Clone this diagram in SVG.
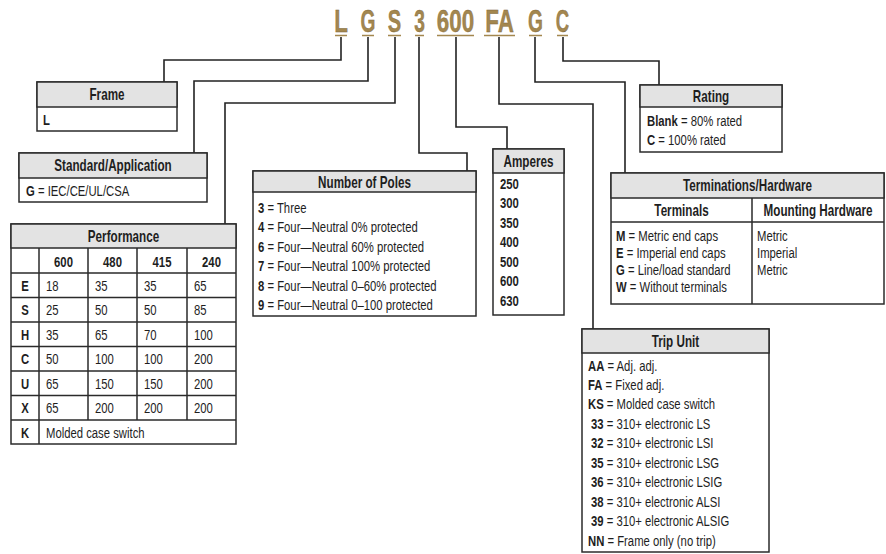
<svg xmlns="http://www.w3.org/2000/svg" width="886" height="554" viewBox="0 0 886 554">
<style>
.bx{fill:#fff;stroke:#2b2b2b;stroke-width:1.5}
.hd{fill:#e3e3e3;stroke:#2b2b2b;stroke-width:1.5}
.ln{stroke:#2b2b2b;stroke-width:1.5;fill:none}
.t{font-family:"Liberation Sans",Arial,sans-serif;font-size:15.5px;fill:#1e1e1e}
.b{font-weight:bold}
.h{font-family:"Liberation Sans",Arial,sans-serif;font-size:16px;font-weight:bold;fill:#1e1e1e;text-anchor:middle}
.m{text-anchor:middle}
.c{fill:none;stroke:#222;stroke-width:1.6}
.code{font-family:"Liberation Sans",Arial,sans-serif;font-weight:bold;font-size:32px;fill:#a3874f;stroke:#7d6537;stroke-width:0.4;text-anchor:middle}
.ul{stroke:#a3874f;stroke-width:1.6}
</style>
<rect width="886" height="554" fill="#fff"/>

<g id="code">
<text class="code" transform="translate(341 32) scale(.7 1)">L</text>
<text class="code" transform="translate(368 32) scale(.6 1)">G</text>
<text class="code" transform="translate(394.5 32) scale(.63 1)">S</text>
<text class="code" transform="translate(419.5 32) scale(.6 1)">3</text>
<text class="code" transform="translate(455.5 32) scale(.7 1)">600</text>
<text class="code" transform="translate(499.5 32) scale(.7 1)">FA</text>
<text class="code" transform="translate(535.5 32) scale(.6 1)">G</text>
<text class="code" transform="translate(562.5 32) scale(.58 1)">C</text>
<path class="ul" d="M335,35.5H347M362,35.5H374M388,35.5H401M415,35.5H424M437,35.5H474M484,35.5H515M529,35.5H542M557,35.5H568"/>
</g>

<g id="connectors">
<path class="c" d="M341,37V60H164V82"/>
<path class="c" d="M368,37V81H194V153"/>
<path class="c" d="M395,37V103H225V224"/>
<path class="c" d="M419,37V153H467V171"/>
<path class="c" d="M456,37V127H507V149"/>
<path class="c" d="M499,37V104H593V329"/>
<path class="c" d="M535,37V82H625V173"/>
<path class="c" d="M563,37V61H659V85"/>
</g>

<g id="frame">
<rect class="bx" x="37" y="82" width="140" height="49"/>
<rect class="hd" x="37" y="82" width="140" height="25"/>
<text class="h" transform="translate(107 100) scale(.73 1)">Frame</text>
<text class="t b" transform="translate(43 124.5) scale(.73 1)">L</text>
</g>

<g id="standard">
<rect class="bx" x="19" y="153" width="188" height="49"/>
<rect class="hd" x="19" y="153" width="188" height="25"/>
<text class="h" transform="translate(113 171) scale(.73 1)">Standard/Application</text>
<text class="t" transform="translate(26 195.5) scale(.73 1)"><tspan class="b">G</tspan> = IEC/CE/UL/CSA</text>
</g>

<g id="performance">
<rect class="bx" x="11" y="224" width="225" height="220"/>
<rect class="hd" x="11" y="224" width="225" height="24"/>
<text class="h" transform="translate(123.5 241.5) scale(.73 1)">Performance</text>
<path class="ln" d="M11,273H236M11,297.5H236M11,322H236M11,346.5H236M11,371H236M11,395.5H236M11,420H236M39,248V444M88,248V420M137,248V420M187,248V420"/>
<g class="t b m">
<text transform="translate(63.5 266.5) scale(.73 1)">600</text><text transform="translate(112.5 266.5) scale(.73 1)">480</text><text transform="translate(162 266.5) scale(.73 1)">415</text><text transform="translate(211.5 266.5) scale(.73 1)">240</text>
<text transform="translate(25 290.5) scale(.73 1)">E</text><text transform="translate(25 315) scale(.73 1)">S</text><text transform="translate(25 339.5) scale(.73 1)">H</text><text transform="translate(25 364) scale(.73 1)">C</text><text transform="translate(25 388.5) scale(.73 1)">U</text><text transform="translate(25 413) scale(.73 1)">X</text><text transform="translate(25 437.5) scale(.73 1)">K</text>
</g>
<g class="t">
<text transform="translate(46 290.5) scale(.73 1)">18</text><text transform="translate(95 290.5) scale(.73 1)">35</text><text transform="translate(144 290.5) scale(.73 1)">35</text><text transform="translate(194 290.5) scale(.73 1)">65</text>
<text transform="translate(46 315) scale(.73 1)">25</text><text transform="translate(95 315) scale(.73 1)">50</text><text transform="translate(144 315) scale(.73 1)">50</text><text transform="translate(194 315) scale(.73 1)">85</text>
<text transform="translate(46 339.5) scale(.73 1)">35</text><text transform="translate(95 339.5) scale(.73 1)">65</text><text transform="translate(144 339.5) scale(.73 1)">70</text><text transform="translate(194 339.5) scale(.73 1)">100</text>
<text transform="translate(46 364) scale(.73 1)">50</text><text transform="translate(95 364) scale(.73 1)">100</text><text transform="translate(144 364) scale(.73 1)">100</text><text transform="translate(194 364) scale(.73 1)">200</text>
<text transform="translate(46 388.5) scale(.73 1)">65</text><text transform="translate(95 388.5) scale(.73 1)">150</text><text transform="translate(144 388.5) scale(.73 1)">150</text><text transform="translate(194 388.5) scale(.73 1)">200</text>
<text transform="translate(46 413) scale(.73 1)">65</text><text transform="translate(95 413) scale(.73 1)">200</text><text transform="translate(144 413) scale(.73 1)">200</text><text transform="translate(194 413) scale(.73 1)">200</text>
<text transform="translate(46 437.5) scale(.73 1)">Molded case switch</text>
</g>
</g>

<g id="poles">
<rect class="bx" x="253" y="171" width="223" height="145"/>
<rect class="hd" x="253" y="171" width="223" height="21"/>
<text class="h" transform="translate(364.5 187.5) scale(.73 1)">Number of Poles</text>
<g class="t">
<text transform="translate(258 212.5) scale(.73 1)"><tspan class="b">3</tspan> = Three</text>
<text transform="translate(258 232) scale(.73 1)"><tspan class="b">4</tspan> = Four—Neutral 0% protected</text>
<text transform="translate(258 251.5) scale(.73 1)"><tspan class="b">6</tspan> = Four—Neutral 60% protected</text>
<text transform="translate(258 271) scale(.73 1)"><tspan class="b">7</tspan> = Four—Neutral 100% protected</text>
<text transform="translate(258 290.5) scale(.73 1)"><tspan class="b">8</tspan> = Four—Neutral 0–60% protected</text>
<text transform="translate(258 310) scale(.73 1)"><tspan class="b">9</tspan> = Four—Neutral 0–100 protected</text>
</g>
</g>

<g id="amperes">
<rect class="bx" x="493" y="149" width="71" height="166"/>
<rect class="hd" x="493" y="149" width="71" height="24"/>
<text class="h" transform="translate(528.5 166.5) scale(.73 1)">Amperes</text>
<g class="t b">
<text transform="translate(500 188.5) scale(.73 1)">250</text><text transform="translate(500 208) scale(.73 1)">300</text><text transform="translate(500 227.5) scale(.73 1)">350</text><text transform="translate(500 247) scale(.73 1)">400</text><text transform="translate(500 266.5) scale(.73 1)">500</text><text transform="translate(500 286) scale(.73 1)">600</text><text transform="translate(500 305.5) scale(.73 1)">630</text>
</g>
</g>

<g id="rating">
<rect class="bx" x="640" y="85" width="142" height="67"/>
<rect class="hd" x="640" y="85" width="142" height="22"/>
<text class="h" transform="translate(711 102) scale(.73 1)">Rating</text>
<text class="t" transform="translate(647 125.5) scale(.73 1)"><tspan class="b">Blank</tspan> = 80% rated</text>
<text class="t" transform="translate(647 144.5) scale(.73 1)"><tspan class="b">C</tspan> = 100% rated</text>
</g>

<g id="terminations">
<rect class="bx" x="611" y="173" width="273" height="131"/>
<rect class="hd" x="611" y="173" width="273" height="25"/>
<text class="h" transform="translate(747.5 191) scale(.73 1)">Terminations/Hardware</text>
<path class="ln" d="M611,222H884M752,198V304"/>
<text class="h" transform="translate(681.5 215.5) scale(.73 1)">Terminals</text>
<text class="h" transform="translate(818 215.5) scale(.73 1)">Mounting Hardware</text>
<g class="t">
<text transform="translate(616 241) scale(.73 1)"><tspan class="b">M</tspan> = Metric end caps</text>
<text transform="translate(616 258) scale(.73 1)"><tspan class="b">E</tspan> = Imperial end caps</text>
<text transform="translate(616 275) scale(.73 1)"><tspan class="b">G</tspan> = Line/load standard</text>
<text transform="translate(616 292) scale(.73 1)"><tspan class="b">W</tspan> = Without terminals</text>
<text transform="translate(757 241) scale(.73 1)">Metric</text>
<text transform="translate(757 258) scale(.73 1)">Imperial</text>
<text transform="translate(757 275) scale(.73 1)">Metric</text>
</g>
</g>

<g id="tripunit">
<rect class="bx" x="582" y="329" width="187" height="223"/>
<rect class="hd" x="582" y="329" width="187" height="24"/>
<text class="h" transform="translate(675.5 346.5) scale(.73 1)">Trip Unit</text>
<g class="t">
<text transform="translate(588 370.5) scale(.73 1)"><tspan class="b">AA</tspan> = Adj. adj.</text>
<text transform="translate(588 389.5) scale(.73 1)"><tspan class="b">FA</tspan> = Fixed adj.</text>
<text transform="translate(588 409) scale(.73 1)"><tspan class="b">KS</tspan> = Molded case switch</text>
<text transform="translate(591 428.5) scale(.73 1)"><tspan class="b">33</tspan> = 310+ electronic LS</text>
<text transform="translate(591 448) scale(.73 1)"><tspan class="b">32</tspan> = 310+ electronic LSI</text>
<text transform="translate(591 467.5) scale(.73 1)"><tspan class="b">35</tspan> = 310+ electronic LSG</text>
<text transform="translate(591 487) scale(.73 1)"><tspan class="b">36</tspan> = 310+ electronic LSIG</text>
<text transform="translate(591 506.5) scale(.73 1)"><tspan class="b">38</tspan> = 310+ electronic ALSI</text>
<text transform="translate(591 526) scale(.73 1)"><tspan class="b">39</tspan> = 310+ electronic ALSIG</text>
<text transform="translate(588 545.5) scale(.73 1)"><tspan class="b">NN</tspan> = Frame only (no trip)</text>
</g>
</g>
</svg>
